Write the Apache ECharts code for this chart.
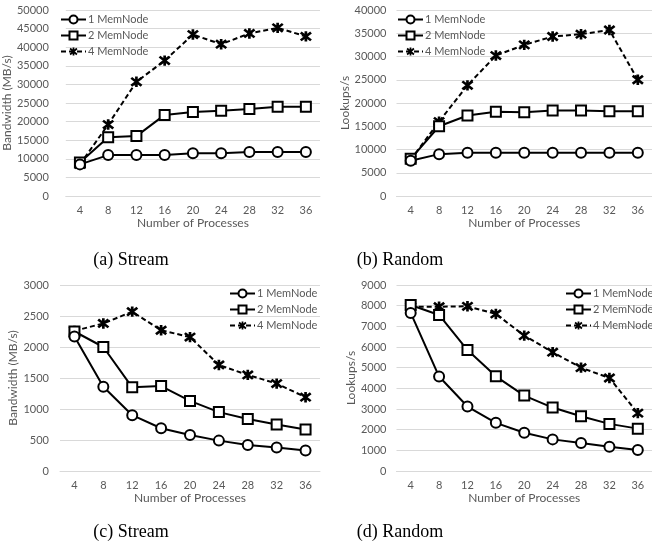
<!DOCTYPE html>
<html>
<head>
<meta charset="utf-8">
<script src="https://cdn.jsdelivr.net/npm/echarts@6/dist/echarts.min.js"></script>
<style>
  html, body { margin: 0; padding: 0; background: #fff; }
  #main { width: 652px; height: 550px; }
</style>
</head>
<body>
<div id="main"></div>
<script>
var procs = ['4', '8', '12', '16', '20', '24', '28', '32', '36'];
var seriesNames = ['1 MemNode', '2 MemNode', '4 MemNode'];

// (a) stream bandwidth
var streamA1 = [8500, 11000, 11000, 11000, 11500, 11500, 11800, 11800, 11800];
var streamA2 = [9000, 15800, 16100, 21800, 22600, 22900, 23400, 24000, 24000];
var streamA4 = [8500, 19200, 30700, 36400, 43400, 40800, 43700, 45200, 42900];
// (b) random lookups
var randomB1 = [7600, 9000, 9300, 9300, 9300, 9300, 9300, 9300, 9300];
var randomB2 = [8000, 15000, 17300, 18100, 18000, 18400, 18400, 18200, 18200];
var randomB4 = [7800, 16000, 23800, 30200, 32500, 34300, 34800, 35700, 25000];
// (c) stream bandwidth
var streamC1 = [2170, 1360, 900, 690, 580, 490, 420, 380, 330];
var streamC2 = [2250, 2000, 1350, 1370, 1130, 950, 840, 750, 670];
var streamC4 = [2260, 2380, 2570, 2270, 2160, 1710, 1550, 1410, 1190];
// (d) random lookups
var randomD1 = [7650, 4570, 3120, 2330, 1850, 1530, 1350, 1170, 1020];
var randomD2 = [8030, 7550, 5850, 4580, 3650, 3070, 2650, 2280, 2050];
var randomD4 = [7950, 7950, 7970, 7600, 6550, 5750, 5000, 4500, 2800];

var captions = ['(a) Stream', '(b) Random', '(c) Stream', '(d) Random'];

var gray = '#595959';
var font = 'Lato';
// asterisk marker: X plus a vertical bar
var starPath = 'path://M-1.3,-5.5L1.3,-5.5L1.3,5.5L-1.3,5.5Z' +
    'M-5.815,-3.183L-4.143,-5.175L5.815,3.183L4.143,5.175Z' +
    'M-4.143,5.175L-5.815,3.183L4.143,-5.175L5.815,-3.183Z';

var panels = [
    { grid: { left: 60, top: 10, width: 260, height: 186 }, max: 50000, interval: 5000, name: 'Bandwidth (MB/s)', gap: 41, margin: 17,
      legend: { left: 55, top: 9 }, data: [streamA1, streamA2, streamA4] },
    { grid: { left: 396.5, top: 10, width: 259, height: 186 }, max: 40000, interval: 5000, name: 'Lookups/s', gap: 41, margin: 10,
      legend: { left: 392, top: 9 }, data: [randomB1, randomB2, randomB4] },
    { grid: { left: 60, top: 285, width: 260, height: 186 }, max: 3000, interval: 500, name: 'Bandwidth (MB/s)', gap: 41, margin: 11,
      legend: { left: 224, top: 283 }, data: [streamC1, streamC2, streamC4] },
    { grid: { left: 396.5, top: 285, width: 261, height: 186 }, max: 9000, interval: 1000, name: 'Lookups/s', gap: 34, margin: 10,
      legend: { left: 560, top: 283 }, data: [randomD1, randomD2, randomD4] }
];

var captionPos = [[131, 260], [400, 260], [131, 532], [400, 532]];

var grids = [], xAxes = [], yAxes = [], series = [], legends = [], graphics = [];

panels.forEach(function(p, i) {
    grids.push(p.grid);
    xAxes.push({
        type: 'category', gridIndex: i, data: procs,
        name: 'Number of Processes', nameLocation: 'middle', nameGap: 20,
        nameTextStyle: { color: gray, fontSize: 12, fontFamily: font },
        axisLine: { lineStyle: { color: '#d9d9d9' } },
        axisTick: { show: false },
        axisLabel: { color: gray, fontSize: 11, fontFamily: font, margin: 9 }
    });
    yAxes.push({
        type: 'value', gridIndex: i, min: 0, max: p.max, interval: p.interval,
        name: p.name, nameLocation: 'middle', nameGap: p.gap, nameRotate: 90,
        nameTextStyle: { color: gray, fontSize: 12, fontFamily: font },
        axisLine: { show: false }, axisTick: { show: false },
        axisLabel: { color: gray, fontSize: 11, fontFamily: font, margin: p.margin,
            formatter: function(v) { return String(v); } },
        splitLine: { lineStyle: { color: '#d9d9d9', width: 1 } }
    });
    legends.push({
        orient: 'vertical', left: p.legend.left, top: p.legend.top,
        itemWidth: 25, itemHeight: 10, itemGap: 5,
        data: seriesNames,
        textStyle: { color: gray, fontSize: 11, fontFamily: font, padding: [0, 0, 0, -3] }
    });
    var symbols = ['emptyCircle', 'emptyRect', starPath];
    var sizes = [10, 10, [12, 11]];
    p.data.forEach(function(vals, k) {
        series.push({
            type: 'line', name: seriesNames[k], xAxisIndex: i, yAxisIndex: i,
            data: vals, symbol: symbols[k], symbolSize: sizes[k], symbolKeepAspect: true,
            showAllSymbol: true,
            itemStyle: { color: '#000', borderColor: '#000', borderWidth: k == 2 ? 0 : 1.5 },
            lineStyle: { color: '#000', width: 2, type: k == 2 ? [5, 3] : 'solid' },
            z: 3 - k,
            animation: false
        });
    });
    graphics.push({
        type: 'text', x: captionPos[i][0], y: captionPos[i][1],
        style: { text: captions[i], fill: '#000', font: '18px "Liberation Serif"', align: 'center', verticalAlign: 'middle' }
    });
});

var myChart = echarts.init(document.getElementById('main'));
myChart.setOption({
    animation: false,
    grid: grids,
    xAxis: xAxes,
    yAxis: yAxes,
    legend: legends,
    series: series,
    graphic: graphics
});
</script>
</body>
</html>
